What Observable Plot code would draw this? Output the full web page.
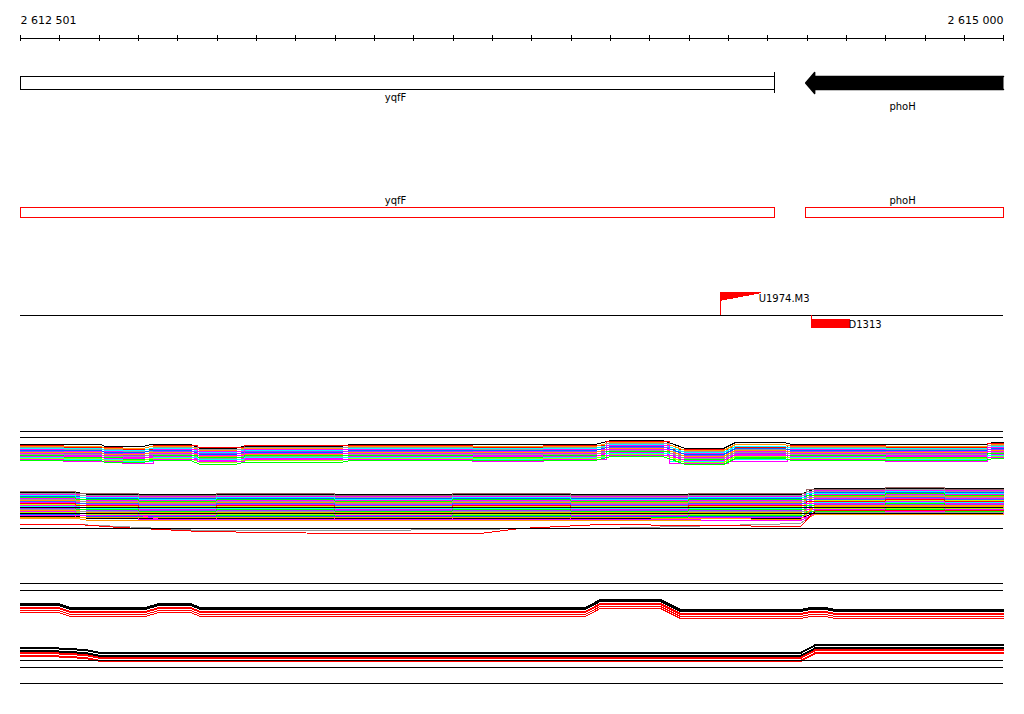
<!DOCTYPE html>
<html>
<head>
<meta charset="utf-8">
<script src="https://cdn.jsdelivr.net/npm/d3@7"></script>
<script src="https://cdn.jsdelivr.net/npm/@observablehq/plot@0.6"></script>
<style>
html,body{margin:0;padding:0;background:#fff;}
#chart svg{display:block;}
</style>
</head>
<body>
<div id="chart"></div>
<script>
// ================= DATA =================
const viewStart = 2612501;
const viewEnd = 2615000;
const tickStep = 100;
const endLabels = ["2 612 501", "2 615 000"];

const geneNames = ["yqfF", "phoH"];
const geneStarts = [2612330, 2614497];
const geneEnds = [2614418, 2615180];
const geneStrands = ["+", "-"];

const siteNames = ["U1974.M3", "D1313"];
const sitePositions = [2614281, 2614512];
const siteStrands = ["+", "-"];

// + strand tiling profiles (log2 signal); conditions follow profile A or B
const plusKnotsA = [2612501, 2612704, 2612717, 2612814, 2612831, 2612933, 2612959, 2613048, 2613065, 2613315, 2613340, 2613963, 2614001, 2614133, 2614192, 2614288, 2614319, 2614441, 2614464, 2614954, 2614972, 2615000];
const plusLevelA = [8.4, 8.4, 7.8, 7.8, 8.4, 8.4, 7.2, 7.2, 7.8, 7.8, 8.4, 8.4, 9.6, 9.6, 7.2, 7.2, 9.0, 9.0, 8.4, 8.4, 9.0, 9.0];
const plusKnotsB = [2612501, 2612610, 2612760, 2612840, 2612950, 2613070, 2613400, 2613650, 2613830, 2613990, 2614150, 2614300, 2614450, 2614700, 2614960, 2615000];
const plusLevelB = [8.4, 7.8, 7.2, 8.4, 7.8, 8.4, 8.4, 7.8, 8.4, 9.6, 7.2, 7.8, 8.4, 7.8, 9.0, 9.0];
const plusOffsets = [2.4, 2.1, 1.8, 1.5, 1.2, 0.9, 0.6, 0.3, 0.0, -0.3, -0.6, -0.9, -1.2, -1.5, -1.8, -2.1, -2.4];
const plusColors = ["#000000", "#ff0000", "#ff9900", "#999999", "#00ffff", "#ff00ff", "#0066ff", "#9933ff", "#ff9900", "#ff00ff", "#999999", "#00ff00", "#ff00ff", "#00ffff", "#99ff00", "#ff00ff", "#00ff00"];

// - strand tiling profiles
const minusKnotsA = [2612501, 2612646, 2612674, 2614484, 2614522, 2615000];
const minusLevelA = [12.0, 12.0, 11.4, 11.4, 13.2, 13.2];
const minusKnotsB = [2612501, 2612640, 2612800, 2613000, 2613300, 2613600, 2613900, 2614200, 2614500, 2614700, 2614850, 2615000];
const minusLevelB = [12.6, 12.0, 11.4, 12.0, 11.4, 12.0, 11.4, 12.0, 13.2, 13.8, 13.2, 13.2];
const minusOffsets = [3.9, 3.6, 3.3, 3.0, 2.7, 2.4, 2.1, 1.8, 1.5, 1.2, 0.9, 0.6, 0.3, 0.0, -0.3, -0.6, -0.9, -1.2, -1.5, -1.8, -2.1, -2.4, -2.7, -3.0, -3.3, -3.6, -3.9];
const minusColors = ["#000000", "#996666", "#ff00ff", "#999999", "#0066ff", "#00ffff", "#ff00ff", "#00ff00", "#ff9900", "#999999", "#ff00ff", "#3366ff", "#ccff00", "#ff0000", "#00ffff", "#ff00ff", "#9933ff", "#00ff00", "#ff9900", "#999999", "#99ff00", "#ff00ff", "#0066ff", "#00ff00", "#000000", "#ff00ff", "#ff9900"];

// - strand low-signal conditions
const lowKnots = [2612501, 2612646, 2612755, 2612806, 2612857, 2612959, 2613315, 2613670, 2613772, 2613975, 2614484, 2614522, 2615000];
const lowRed = [6.3, 6.3, 5.4, 5.1, 4.8, 4.2, 3.6, 3.6, 5.1, 6.3, 5.7, 10.5, 10.5];
const lowOrange = [8.4, 8.4, 8.4, 8.4, 8.4, 8.4, 8.4, 8.4, 8.4, 8.4, 7.8, 12.0, 12.0];
const lowMagenta = [9.0, 9.0, 9.0, 9.0, 7.8, 7.8, 7.8, 7.8, 7.8, 7.8, 7.5, 9.6, 9.6];
const lowGray = [6.3, 6.3, 5.7, 5.4, 5.1, 4.5, 4.5, 4.8, 5.1, 5.1, 6.6, 9.9, 9.9];
const lowColors = ["#999999", "#ff9900", "#ff00ff", "#ff0000"];

// two-condition comparison (black vs red replicates)
const condKnotsPlus = [2612501, 2612598, 2612628, 2612819, 2612852, 2612933, 2612959, 2613937, 2613975, 2614128, 2614179, 2614484, 2614509, 2614548, 2614573, 2615000];
const condLevelPlus = [11.1, 11.1, 9.9, 9.9, 11.1, 11.1, 9.9, 9.9, 12.3, 12.3, 9.3, 9.3, 9.9, 9.9, 9.3, 9.3];
const condKnotsMinus = [2612501, 2612577, 2612666, 2612704, 2614484, 2614522, 2615000];
const condLevelMinus = [12.9, 12.9, 12.3, 11.4, 11.4, 13.8, 13.8];
const condOffsetsPlus = [0, -0.3, -0.6, -1.2, -1.5, -2.1, -2.7];
const condOffsetsMinus = [0, -0.3, -0.9, -1.2, -1.5, -1.8, -2.4, -2.7];
const condColorsPlus = ["#000000", "#000000", "#000000", "#ff0000", "#ff0000", "#ff0000", "#ff0000"];
const condColorsMinus = ["#000000", "#000000", "#000000", "#000000", "#ff0000", "#ff0000", "#ff0000", "#ff0000"];

// ================= LAYOUT =================
const W = 1024, H = 714;
const K = 10 / 3;                 // px per signal unit
const base = {plus: 480, minus: 545, condPlus: 640, condMinus: 690};
const yOf = (b, v) => b - K * v;
const bpPerPx = (viewEnd - viewStart) / 983;

const genes = geneNames.map((name, i) => ({
  name, strand: geneStrands[i],
  start: Math.max(geneStarts[i], viewStart),
  end: Math.min(geneEnds[i], viewEnd)
}));
const sites = siteNames.map((name, i) => ({name, pos: sitePositions[i], strand: siteStrands[i]}));
const ticks = d3.range(viewStart, viewEnd + 2, tickStep);

const lineOpts = {strokeWidth: 1, shapeRendering: "crispEdges"};
function series(knots, level, off, color, b, curve) {
  return Plot.line(knots, {x: d => d, y: (d, j) => Math.round(yOf(b, level[j] + off)), stroke: color, curve, ...lineOpts});
}
function band(offsets, colors, b, A, B) {
  return offsets.map((o, i) => (i % 2 === 0 || !B)
    ? series(A[0], A[1], o, colors[i], b, "linear")
    : series(B[0], B[1], o, colors[i], b, "step-after"));
}

const head = 9 * bpPerPx;
const arrowPts = [];
genes.filter(g => g.strand === "-").forEach(g => {
  arrowPts.push([g.end, 76], [g.start + head, 76], [g.start + head, 72], [g.start, 82.5],
                [g.start + head, 93], [g.start + head, 89], [g.end, 89]);
});
const flagPts = [];
sites.filter(s => s.strand === "+").forEach(s => {
  flagPts.push([s.pos, 292], [s.pos + 40 * bpPerPx, 292], [s.pos, 299.5]);
});

const upperRules = [431, 437, 507, 513, 528];
const lowerRules = [583, 590, 660, 667, 683];
const hl = {x1: viewStart, x2: viewEnd, stroke: "black", strokeWidth: 1, shapeRendering: "crispEdges"};

const marks = [
  // coordinate axis
  Plot.ruleY([38], hl),
  Plot.ruleX(ticks, {x: d => d, y1: 35, y2: 41, stroke: "black", shapeRendering: "crispEdges"}),
  Plot.text([endLabels[0]], {x: viewStart, y: 20, text: d => d, textAnchor: "start", fontSize: 11}),
  Plot.text([endLabels[1]], {x: viewEnd, y: 20, text: d => d, textAnchor: "end", fontSize: 11}),
  // genes track
  Plot.rect(genes.filter(g => g.strand === "+"), {x1: "start", x2: "end", y1: 76, y2: 89,
    fill: "white", stroke: "black", shapeRendering: "crispEdges"}),
  Plot.ruleX(genes.filter(g => g.strand === "+"), {x: "end", y1: 72, y2: 93, stroke: "black", shapeRendering: "crispEdges"}),
  Plot.line(arrowPts, {x: d => d[0], y: d => d[1], fill: "black", stroke: "black"}),
  Plot.text(genes, {x: d => (d.start + d.end) / 2 - 2 * bpPerPx, y: d => d.strand === "+" ? 97 : 106, text: "name"}),
  // annotation track
  Plot.rect(genes, {x1: "start", x2: "end", y1: 207, y2: 217, fill: "white", stroke: "red", shapeRendering: "crispEdges"}),
  Plot.text(genes, {x: d => (d.start + d.end) / 2 - 2 * bpPerPx, y: 200, text: "name"}),
  // transcription sites track
  Plot.ruleY([315], hl),
  Plot.line(flagPts, {x: d => d[0], y: d => d[1], fill: "red", stroke: "red", shapeRendering: "crispEdges"}),
  Plot.ruleX(sites.filter(s => s.strand === "+"), {x: "pos", y1: 292, y2: 315, stroke: "red", shapeRendering: "crispEdges"}),
  Plot.ruleX(sites.filter(s => s.strand === "-"), {x: "pos", y1: 315, y2: 328, stroke: "red", shapeRendering: "crispEdges"}),
  Plot.rect(sites.filter(s => s.strand === "-"), {x1: "pos", x2: d => d.pos + 39 * bpPerPx, y1: 319, y2: 328, fill: "red", shapeRendering: "crispEdges"}),
  Plot.text(sites, {x: d => d.pos + (d.strand === "+" ? 38 : 37) * bpPerPx, y: d => d.strand === "+" ? 298 : 324,
    text: "name", textAnchor: "start"}),
  // multi-condition profiles
  ...band(plusOffsets, plusColors, base.plus, [plusKnotsA, plusLevelA], [plusKnotsB, plusLevelB]),
  ...band(minusOffsets, minusColors, base.minus, [minusKnotsA, minusLevelA], [minusKnotsB, minusLevelB]),
  series(lowKnots, lowGray, 0, lowColors[0], base.minus, "linear"),
  series(lowKnots, lowOrange, 0, lowColors[1], base.minus, "linear"),
  series(lowKnots, lowMagenta, 0, lowColors[2], base.minus, "linear"),
  series(lowKnots, lowRed, 0, lowColors[3], base.minus, "linear"),
  Plot.ruleY(upperRules, hl),
  // two-condition profiles
  ...band(condOffsetsPlus, condColorsPlus, base.condPlus, [condKnotsPlus, condLevelPlus]),
  ...band(condOffsetsMinus, condColorsMinus, base.condMinus, [condKnotsMinus, condLevelMinus]),
  Plot.ruleY(lowerRules, hl)
];

const chart = Plot.plot({
  width: W, height: H,
  marginTop: 0, marginRight: 0, marginBottom: 0, marginLeft: 0,
  x: {domain: [viewStart, viewEnd], range: [20, 1003], axis: null},
  y: {domain: [0, H], range: [0, H], axis: null},
  style: {fontFamily: "DejaVu Sans", fontSize: "10px", background: "white", color: "black"},
  marks
});
document.getElementById("chart").appendChild(chart);
</script>
</body>
</html>
